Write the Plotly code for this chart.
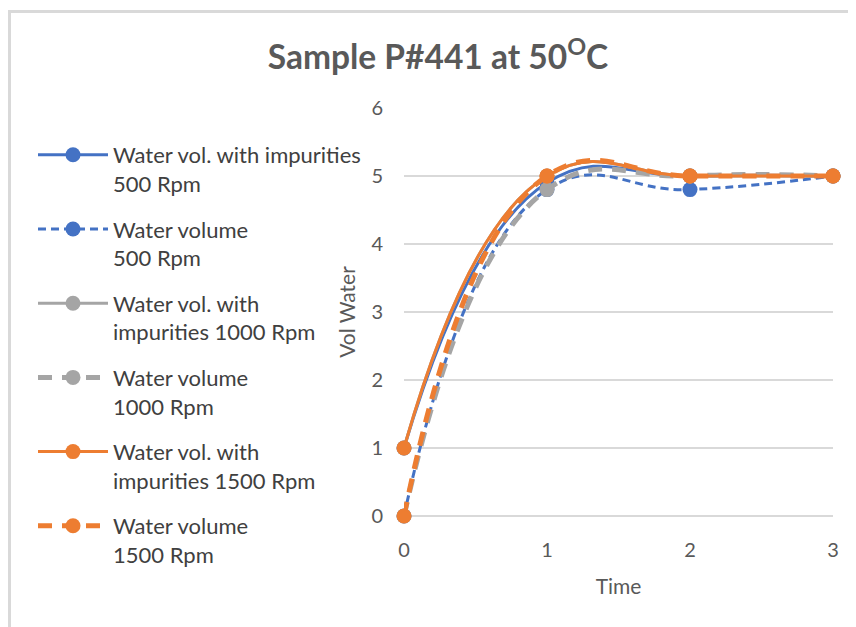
import plotly.graph_objects as go

time = [0, 1, 2, 3]
imp_500 = [1, 4.9, 5, 5]
vol_500 = [0, 4.8, 4.8, 5]
imp_1000 = [1, 5, 5, 5]
vol_1000 = [0, 4.8, 5, 5]
imp_1500 = [1, 5, 5, 5]
vol_1500 = [0, 5, 5, 5]

names = [
    "Water vol. with impurities<br>500 Rpm",
    "Water volume<br>500 Rpm",
    "Water vol. with<br>impurities 1000 Rpm",
    "Water volume<br>1000 Rpm",
    "Water vol. with<br>impurities 1500 Rpm",
    "Water volume<br>1500 Rpm",
]
series = [imp_500, vol_500, imp_1000, vol_1000, imp_1500, vol_1500]
BLUE, GRAY, ORANGE = "#4472C4", "#A5A5A5", "#ED7D31"
colors = [BLUE, BLUE, GRAY, GRAY, ORANGE, ORANGE]
dashes = ["solid", "8px,5px", "solid", "14px,10px", "solid", "14px,10px"]
widths = [3, 3, 3, 5, 3, 5]

W, H = 848, 619
L, R, T, B = 396, 23, 100, 111
PW, PH = W - L - R, H - T - B

fig = go.Figure()
for i, (nm, ys) in enumerate(zip(names, series)):
    fig.add_trace(go.Scatter(
        x=time, y=ys, name=nm, mode="lines+markers",
        line=dict(color=colors[i], width=widths[i], dash=dashes[i], shape="spline", smoothing=1.3),
        marker=dict(color=colors[i], size=15),
        cliponaxis=False, legendgroup=str(i),
    ))

fig.update_layout(
    width=W, height=H,
    margin=dict(l=L, r=R, t=T, b=B, autoexpand=False),
    paper_bgcolor="white", plot_bgcolor="white",
    font=dict(family="Lato, Carlito, Calibri, sans-serif", color="#595959"),
    title=dict(text="<b>Sample P#441 at 50<sup>O</sup>C</b>", x=(438 - 8) / W, xanchor="center",
               y=1 - 49 / H, yanchor="middle", xref="container", yref="container",
               font=dict(size=33.5, color="#595959")),
    showlegend=True,
    legend=dict(x=(25 - L) / PW, xanchor="left",
                y=1 - 26 / PH, yanchor="top",
                font=dict(size=22, color="#404040"), valign="top",
                itemwidth=70, tracegroupgap=14, bgcolor="rgba(0,0,0,0)",
                maxheight=560),
    xaxis=dict(range=[0, 3], tickvals=time, showgrid=False, zeroline=False,
               showline=False, ticks="", tickfont=dict(size=20, color="#595959"),
               ticklabelstandoff=20,
               title=dict(text="Time", font=dict(size=21, color="#595959"), standoff=19)),
    yaxis=dict(range=[0, 6], dtick=1, showgrid=True, gridcolor="#D9D9D9", gridwidth=1.5,
               zeroline=True, zerolinecolor="#D9D9D9", zerolinewidth=1.5, showline=False,
               ticks="", tickfont=dict(size=20, color="#595959"), ticklabelstandoff=20,
               title=dict(text="Vol Water", font=dict(size=21, color="#595959"), standoff=10)),
    shapes=[
        dict(type="line", xref="paper", yref="paper", x0=(0 - L) / PW, x1=(W - L) / PW,
             y0=(H - B - 3.5) / PH, y1=(H - B - 3.5) / PH, line=dict(color="#D9D9D9", width=3)),
        dict(type="line", xref="paper", yref="paper", x0=(1.5 - L) / PW, x1=(1.5 - L) / PW,
             y0=(H - B - 2) / PH, y1=-B / PH, line=dict(color="#D9D9D9", width=3)),
    ],
)

fig.write_html("out.html")
